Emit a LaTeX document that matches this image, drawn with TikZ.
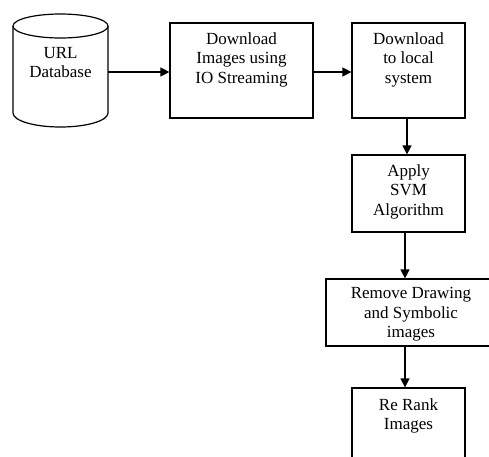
\documentclass[tikz,border=0pt]{standalone}
\usepackage{fontspec}
\setmainfont{Liberation Serif}
\usetikzlibrary{arrows.meta}
\begin{document}
\begin{tikzpicture}[x=1pt,y=-1pt,
  box/.style={draw, line width=1.2pt, inner sep=0pt},
  txt/.style={align=center, inner sep=0pt, font=\fontsize{17}{19.5}\selectfont},
  arr/.style={line width=1.2pt, -{Triangle[length=9pt,width=9pt]}}]
\useasboundingbox (0,0) rectangle (489,456);
\clip (0,0) rectangle (489,456);
% cylinder
\draw[line width=1.2pt] (13,26) -- (13,113) arc[start angle=180,end angle=0,x radius=47.5,y radius=14] -- (108,26);
\draw[line width=1.2pt] (60.5,26) ellipse[x radius=47.5,y radius=12];
\node[txt, anchor=north] (db) at (60.5,47) {URL\\Database};
\coordinate (dbR) at (108,72);
% boxes
\node[box, minimum width=143, minimum height=95] (b1) at (241.5,70.5) {};
\node[txt, anchor=north] (t1) at ([yshift=-10]b1.north) {Download\\Images using\\IO Streaming};
\node[box, minimum width=113, minimum height=95] (b2) at (408.5,70.5) {};
\node[txt, anchor=north] (t2) at ([yshift=-10]b2.north) {Download\\to local\\system};
\node[box, minimum width=113, minimum height=77] (b3) at (408.5,193.5) {};
\node[txt, anchor=north] (t3) at ([yshift=-10]b3.north) {Apply\\SVM\\Algorithm};
\node[box, minimum width=170, minimum height=67] (b4) at (411,312.5) {};
\node[txt, anchor=north] (t4) at ([yshift=-9]b4.north) {Remove Drawing\\and Symbolic\\images};
\node[box, minimum width=113, minimum height=95] (b5) at (408.5,435.5) {};
\node[txt, anchor=north] (t5) at ([yshift=-11]b5.north) {Re Rank\\Images};
% arrows
\draw[arr] (dbR) -- (b1.west |- dbR);
\draw[arr] (b1.east |- dbR) -- (b2.west |- dbR);
\draw[arr] ([xshift=-1.5]b2.south) -- ([xshift=-1.5]b3.north);
\draw[arr] ([xshift=-3.5]b3.south) -- ([xshift=-3.5]b3.south |- b4.north);
\draw[arr] ([xshift=-3.5]b3.south |- b4.south) -- ([xshift=-3.5]b5.north);
\end{tikzpicture}
\end{document}
